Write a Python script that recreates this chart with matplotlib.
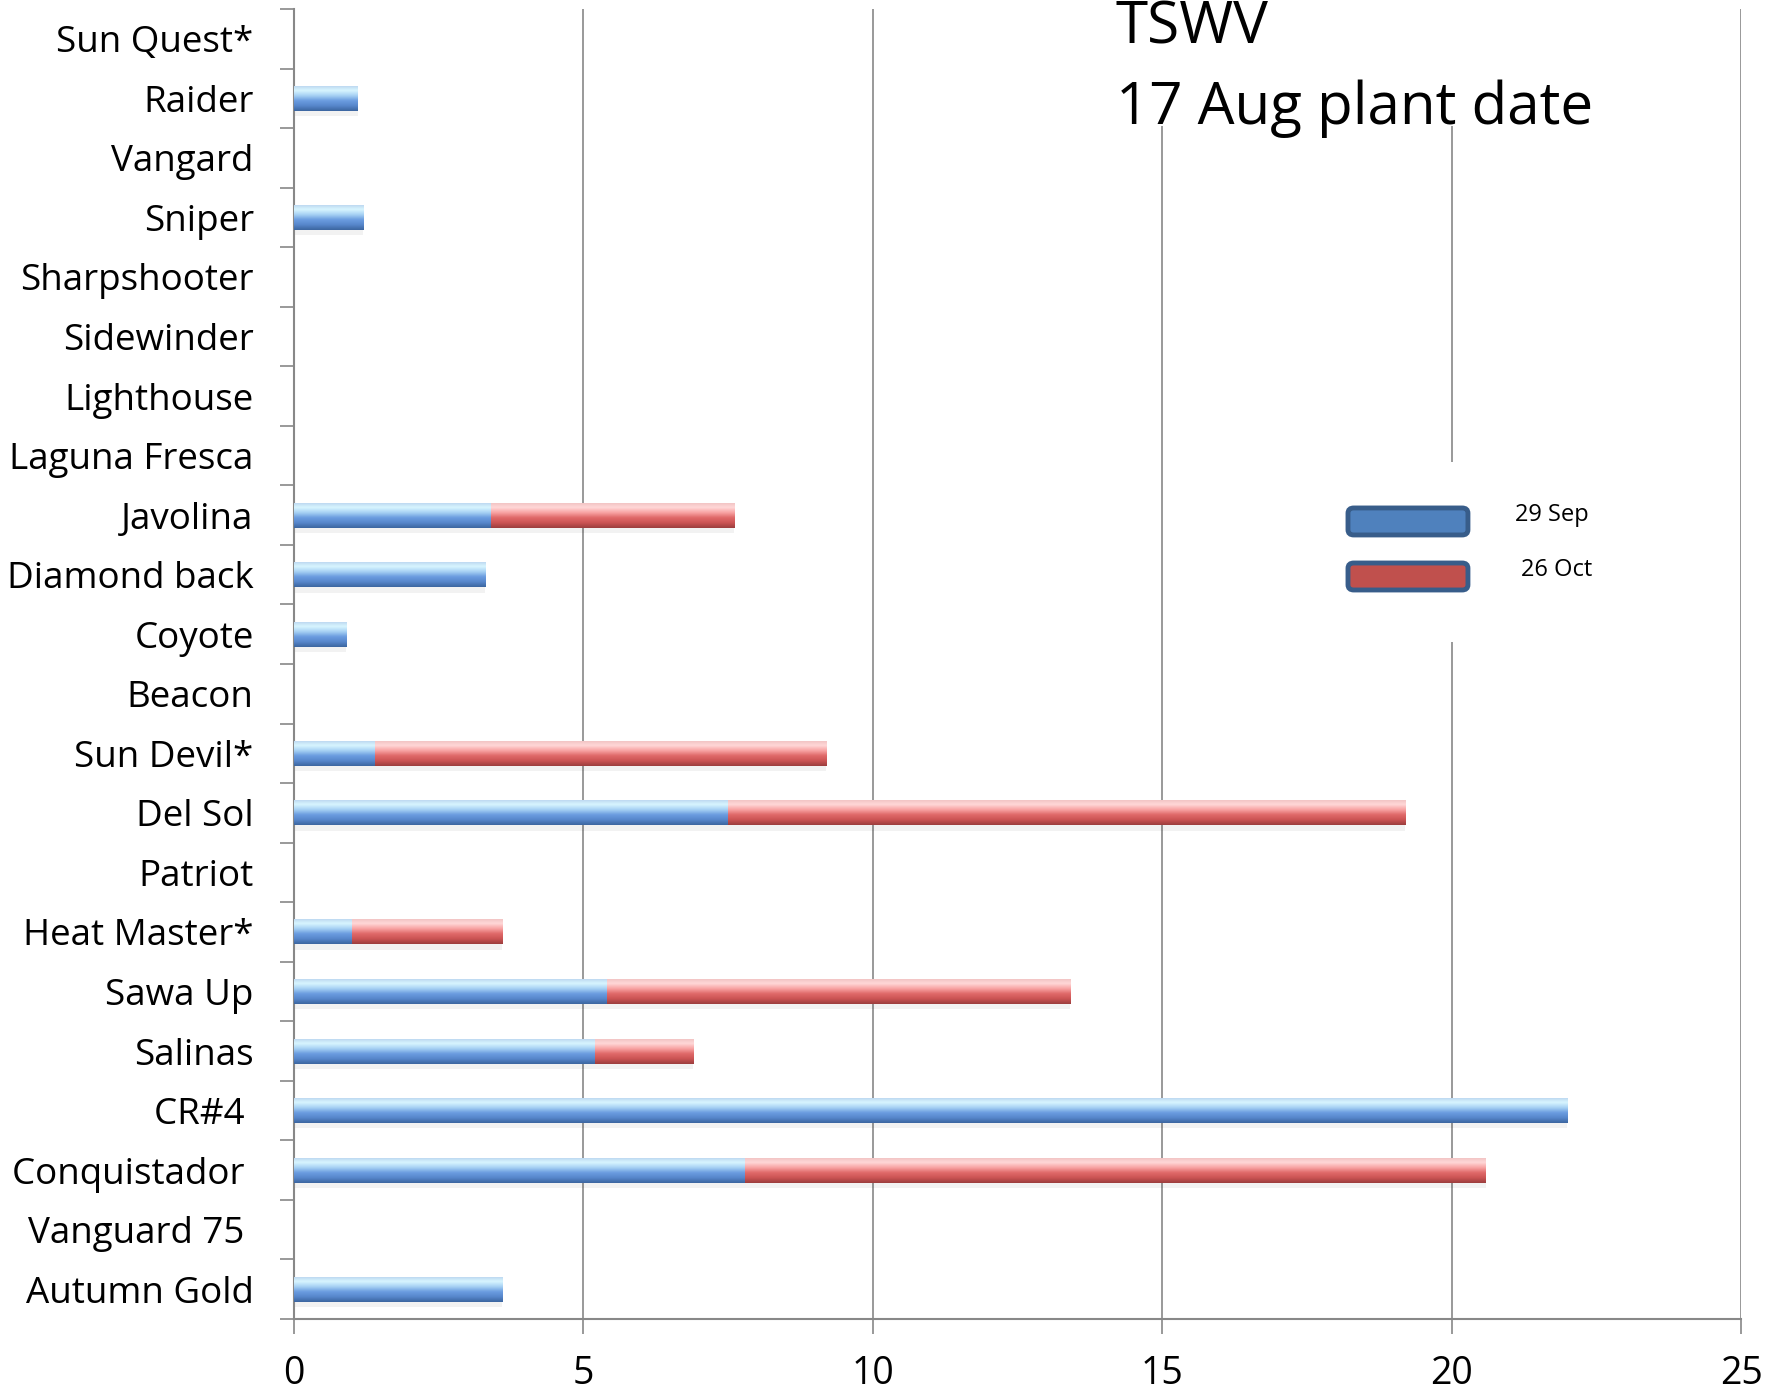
import numpy as np
import matplotlib
matplotlib.use('Agg')
import matplotlib.pyplot as plt
from matplotlib.colors import LinearSegmentedColormap
from matplotlib.patches import Rectangle, FancyBboxPatch

plt.rcParams['font.family'] = ['Open Sans', 'DejaVu Sans']

varieties = ['Sun Quest*', 'Raider', 'Vangard', 'Sniper', 'Sharpshooter', 'Sidewinder',
             'Lighthouse', 'Laguna Fresca', 'Javolina', 'Diamond back', 'Coyote', 'Beacon',
             'Sun Devil*', 'Del Sol', 'Patriot', 'Heat Master*', 'Sawa Up', 'Salinas',
             'CR#4 ', 'Conquistador ', 'Vanguard 75 ', 'Autumn Gold']
sep29 = [0, 1.1, 0, 1.2, 0, 0, 0, 0, 3.4, 3.3, 0.9, 0, 1.4, 7.5, 0, 1.0, 5.4, 5.2, 22.0, 7.8, 0, 3.6]
oct26 = [0, 0, 0, 0, 0, 0, 0, 0, 4.2, 0, 0, 0, 7.8, 11.7, 0, 2.6, 8.0, 1.7, 0, 12.8, 0, 0]
series_names = ['29 Sep', '26 Oct']
x_ticks = [0, 5, 10, 15, 20, 25]

blue_grad = LinearSegmentedColormap.from_list(
    'bl', ['#b9d3ee', '#d8f6ff', '#a8d2f4', '#6b9de0', '#5787cc', '#3c66a0'])
red_grad = LinearSegmentedColormap.from_list(
    'rd', ['#f0c0c0', '#ffd8d8', '#f8a4a4', '#e06a6a', '#cc5454', '#9c3e3e'])

fig = plt.figure(figsize=(17.67, 13.97), dpi=100)
W, H = 1767, 1397
ax = fig.add_axes([294 / W, (H - 1319) / H, (1741 - 294) / W, (1319 - 9) / H])

y = np.arange(len(varieties))
h = 0.42
left = np.zeros(len(varieties))
gradient = np.linspace(0, 1, 64).reshape(-1, 1)

for vals, cmap, base in [(sep29, blue_grad, '#5b8bd0'), (oct26, red_grad, '#d05858')]:
    vals = np.array(vals)
    # soft shadow under each bar
    ax.barh(y + 0.09, vals, height=h, left=left, color='#000000', alpha=0.05,
            linewidth=0, zorder=2)
    bars = ax.barh(y, vals, height=h, left=left, color=base, linewidth=0, zorder=3)
    for rect, v in zip(bars.patches, vals):
        if v <= 0:
            continue
        x0 = rect.get_x()
        yc = rect.get_y() + h / 2
        im = ax.imshow(gradient, cmap=cmap, aspect='auto', origin='upper',
                       extent=(x0, x0 + v, yc + h / 2, yc - h / 2), zorder=4,
                       interpolation='bicubic')
        im.set_clip_path(rect)
    left = left + vals

ax.set_xlim(0, 25)
ax.set_ylim(len(varieties) - 0.5, -0.5)

ax.set_xticks(x_ticks)
ax.set_xticklabels([str(t) for t in x_ticks])
ax.set_yticks(y)
ax.set_yticklabels(varieties)
ax.set_yticks(np.arange(len(varieties) + 1) - 0.5, minor=True)

gray = '#888888'
ax.tick_params(axis='y', which='major', length=0, pad=29, labelsize=26.5)
ax.tick_params(axis='y', which='minor', length=10, width=1.2, color=gray, direction='out')
ax.tick_params(axis='x', which='major', length=11, width=1.2, color=gray, pad=15, labelsize=27)

for s in ['top', 'right']:
    ax.spines[s].set_visible(False)
for s in ['left', 'bottom']:
    ax.spines[s].set_color(gray)
    ax.spines[s].set_linewidth(1.5)

ax.grid(axis='x', color=gray, linewidth=1.2, zorder=0)
ax.set_axisbelow(True)

# legend drawn by hand on a white panel
ax.add_patch(Rectangle((0.715, 0.517), 0.2, 0.137, transform=ax.transAxes,
                       facecolor='white', edgecolor='none', zorder=5))
for yy, fc, name, tx in [(0.5985, '#4f81bd', series_names[0], 0.8438),
                         (0.5565, '#c0504d', series_names[1], 0.8479)]:
    ax.add_patch(FancyBboxPatch((0.7284, yy), 0.0829, 0.0206, transform=ax.transAxes,
                                boxstyle='round,pad=0,rounding_size=0.004',
                                facecolor=fc, edgecolor='#385d8a', linewidth=3.5, zorder=6))
    ax.text(tx, yy + 0.015, name, transform=ax.transAxes, fontsize=17,
            va='center', ha='left', zorder=7)

# title block
fig.patches.append(Rectangle((1105 / W, (H - 126) / H), (1650 - 1105) / W, 126 / H,
                             transform=fig.transFigure, facecolor='white',
                             edgecolor='none', zorder=5))
fig.text(1116 / W, (H - 43) / H, 'TSWV', fontsize=42, va='baseline', ha='left', zorder=6)
fig.text(1116 / W, (H - 124) / H, '17 Aug plant date', fontsize=42, va='baseline',
         ha='left', zorder=6)

fig.savefig('out.png', dpi=100)
